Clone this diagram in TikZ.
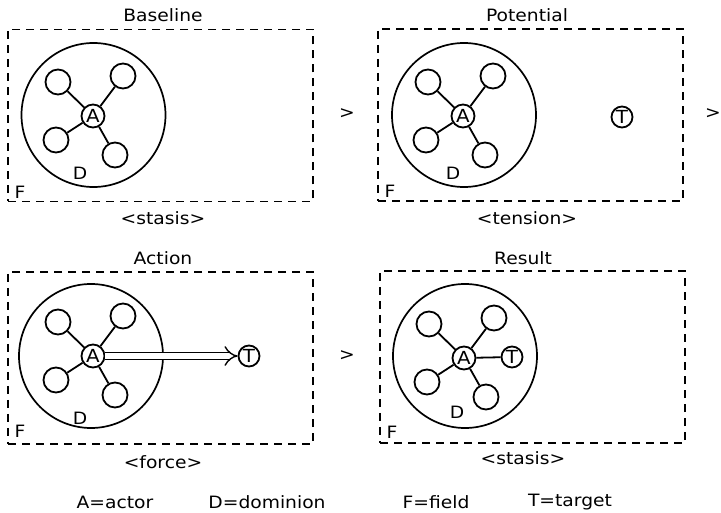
\documentclass[tikz,border=0pt]{standalone}
\usepackage{fontspec}
\setmainfont{DejaVu Sans}[FakeStretch=1.1]
\usetikzlibrary{arrows.meta}
\begin{document}
\begin{tikzpicture}[x=1pt,y=-1pt,
  every node/.style={font=\fontsize{17}{20}\selectfont},
  field/.style={draw, dash pattern=on 8pt off 6pt, line width=1.8pt,
    minimum width=305pt, minimum height=172pt, inner sep=0pt},
  dominion/.style={circle, draw, line width=1.7pt, minimum size=144pt, inner sep=0pt},
  actor/.style={circle, draw, line width=1.8pt, minimum size=23pt, inner sep=0pt,
    font=\fontsize{18}{20}\selectfont},
  sat/.style={circle, draw, line width=1.8pt, minimum size=25pt, inner sep=0pt},
  target/.style={circle, draw, line width=1.8pt, minimum size=21pt, inner sep=0pt,
    font=\fontsize{18}{20}\selectfont},
  link/.style={line width=1.8pt},
  lbl/.style={inner sep=0pt, anchor=center}]
\useasboundingbox (0,0) rectangle (721,513);

% one actor with its dominion and four satellites: #1 name prefix, #2 actor centre, #3 dominion centre
\newcommand{\cluster}[3]{%
  \node[dominion] (#1dom) at (#3) {};
  \node[actor] (#1a) at (#2) {A};
  \node[sat] (#1s1) at ([shift={(-35,-34)}]#2) {};
  \node[sat] (#1s2) at ([shift={(30,-40)}]#2) {};
  \node[sat] (#1s3) at ([shift={(-37,24)}]#2) {};
  \node[sat] (#1s4) at ([shift={(22,39)}]#2) {};
  \foreach \s in {1,...,4} \draw[link] (#1a) -- (#1s\s);
}

% ---- Baseline ----
\node[field] (f1) at (160.5,115.5) {};
\node[lbl] (t1) at (163,15) {Baseline};
\cluster{p}{93,116}{93.5,115}
\node[lbl] (d1) at (80,173) {D};
\node[lbl] (ff1) at (20,192) {F};
\node[lbl] (b1) at (163,218) {<stasis>};
\node[lbl] (g1) at (347,114) {>};

% ---- Potential ----
\node[field] (f2) at (530.5,115) {};
\node[lbl] (t2) at (527,15) {Potential};
\cluster{q}{463,116}{464,115}
\node[target] (qt) at (622,117) {T};
\node[lbl] (d2) at (453,173) {D};
\node[lbl] (ff2) at (390,191) {F};
\node[lbl] (b2) at (527,218) {<tension>};
\node[lbl] (g2) at (713,114) {>};

% ---- Action ----
\node[field] (f3) at (160.5,358) {};
\node[lbl] (t3) at (163,258) {Action};
\cluster{r}{93,356}{91,356}
\node[target] (rt) at (249,356) {T};
\draw[line width=1.4pt, double distance=5.5pt, -{Implies[length=7pt]}] (ra) -- (rt);
\node[lbl] (d3) at (80,418) {D};
\node[lbl] (ff3) at (20,431) {F};
\node[lbl] (b3) at (163,462) {<force>};
\node[lbl] (g3) at (347,356) {>};

% ---- Result ----
\node[field] (f4) at (532.5,357) {};
\node[lbl] (t4) at (523,258) {Result};
\cluster{s}{464,358}{465,356}
\node[target] (st) at (512,357) {T};
\draw[link] (sa) -- (st);
\node[lbl] (d4) at (457,412) {D};
\node[lbl] (ff4) at (392,432) {F};
\node[lbl] (b4) at (523,458) {<stasis>};

% ---- legend ----
\node[lbl] (k1) at (115,502) {A=actor};
\node[lbl] (k2) at (267,502) {D=dominion};
\node[lbl] (k3) at (436,502) {F=field};
\node[lbl] (k4) at (570,502) {T=target};
\end{tikzpicture}
\end{document}
